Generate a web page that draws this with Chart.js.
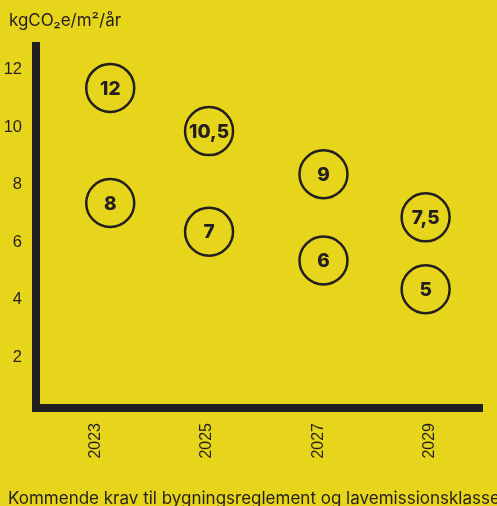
<!DOCTYPE html>
<html>
<head>
<meta charset="utf-8">
<script src="https://cdn.jsdelivr.net/npm/chart.js@4"></script>
<style>
    html, body { margin: 0; padding: 0; background: #E7D51B; overflow: hidden; }
    body { position: relative; width: 497px; height: 506px; }
    canvas { display: block; }
    .txt { position: absolute; color: #231F20; font-family: Inter, 'Open Sans', sans-serif; line-height: 20px; white-space: nowrap; }
    #unit { left: 9px; top: 10px; font-size: 17px; }
    #caption { left: 8px; top: 488px; font-size: 17px; }
</style>
</head>
<body>
<canvas id="myChart" width="497" height="506"></canvas>
<div class="txt" id="unit">kgCO₂e/m²/år</div>
<div class="txt" id="caption">Kommende krav til bygningsreglement og lavemissionsklasse</div>
<script>
// data
var years = [2023, 2025, 2027, 2029];
var xPos = [2023.27, 2025.04, 2027.09, 2028.92];   // where the circles sit horizontally
var bygningsreglement = [12, 10.5, 9, 7.5];
var lavemissionsklasse = [8, 7, 6, 5];
var yTicks = [2, 4, 6, 8, 10, 12];

var ink = "#231F20";
var font = "Inter, 'Open Sans', sans-serif";
var tickFont = "'Liberation Sans', Arial, sans-serif";

function points(values) {
    return values.map(function (v, i) {
        return { x: xPos[i], y: v };
    });
}

// number inside each circle
var circleLabels = {
    id: "circleLabels",
    afterDatasetsDraw: function (chart) {
        var ctx = chart.ctx;
        ctx.save();
        ctx.fillStyle = ink;
        ctx.font = "800 19px " + font;
        ctx.textAlign = "center";
        ctx.textBaseline = "middle";
        chart.data.datasets.forEach(function (ds, i) {
            chart.getDatasetMeta(i).data.forEach(function (pt, j) {
                ctx.fillText(String(ds.data[j].y).replace(".", ","), pt.x, pt.y + 1);
            });
        });
        ctx.restore();
    }
};

var circleStyle = {
    showLine: false,
    pointRadius: 24,
    pointHoverRadius: 24,
    pointBorderWidth: 2.5,
    pointBorderColor: ink,
    pointBackgroundColor: "rgba(0,0,0,0)"
};

var ctx = document.getElementById("myChart").getContext("2d");
var chart = new Chart(ctx, {
    type: "scatter",
    data: {
        datasets: [
            Object.assign({ label: "Bygningsreglement", data: points(bygningsreglement) }, circleStyle),
            Object.assign({ label: "Lavemissionsklasse", data: points(lavemissionsklasse) }, circleStyle)
        ]
    },
    plugins: [circleLabels],
    options: {
        responsive: false,
        animation: false,
        layout: { autoPadding: false, padding: { left: 0, right: 15, top: 46, bottom: 28 } },
        plugins: {
            legend: { display: false },
            tooltip: { enabled: false }
        },
        scales: {
            x: {
                type: "linear",
                min: 2021.94,
                max: 2029.93,
                afterBuildTicks: function (scale) {
                    scale.ticks = years.map(function (v) { return { value: v }; });
                },
                afterFit: function (scale) { scale.height = 70; },
                grid: { display: false, drawTicks: false },
                border: { color: ink, width: 8 },
                ticks: {
                    minRotation: 90,
                    maxRotation: 90,
                    padding: 15,
                    color: ink,
                    font: { family: tickFont, size: 16 },
                    callback: function (v) { return String(v); }
                }
            },
            y: {
                min: 0.87,
                max: 13.46,
                afterBuildTicks: function (scale) {
                    scale.ticks = yTicks.map(function (v) { return { value: v }; });
                },
                afterFit: function (scale) { scale.width = 36; },
                grid: { display: false, drawTicks: false },
                border: { color: ink, width: 8 },
                ticks: {
                    padding: 14,
                    labelOffset: -18.5,
                    color: ink,
                    font: { family: tickFont, size: 16.5 },
                    callback: function (v) { return String(v); }
                }
            }
        }
    }
});
</script>
</body>
</html>
